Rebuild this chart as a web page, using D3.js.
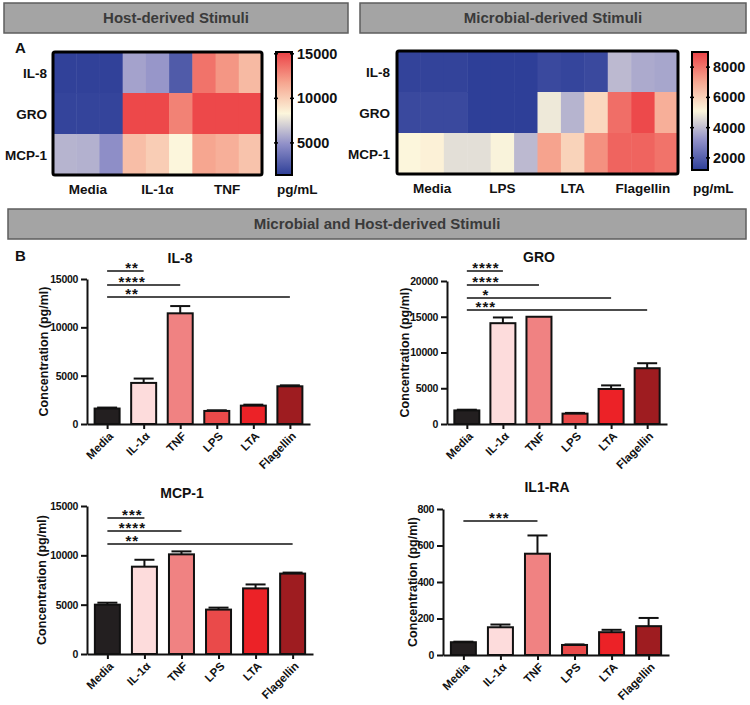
<!DOCTYPE html>
<html>
<head>
<meta charset="utf-8">
<script src="https://cdn.jsdelivr.net/npm/d3@7"></script>
<style>
body { margin: 0; background: #fff; }
text { font-family: "Liberation Sans", Arial, sans-serif; font-weight: bold; fill: #111; }
</style>
</head>
<body>
<svg id="fig" width="750" height="705"></svg>
<script>
// ---- data ----
const cytokines = ['IL-8', 'GRO', 'MCP-1'];
const hostStimuli = ['Media', 'IL-1α', 'TNF'];
const microbeStimuli = ['Media', 'LPS', 'LTA', 'Flagellin'];

// 3 replicates per stimulus, pg/mL
const hostHeat = [
    [1500, 1500, 1500, 5500, 5100, 2600, 13500, 12300, 10900],
    [1600, 1600, 1600, 15000, 15000, 13000, 15000, 15000, 15000],
    [6100, 6000, 4800, 10700, 10050, 8300, 11750, 11350, 10500]
];
const microbeHeat = [
    [1300, 1300, 1300, 1200, 1200, 1200, 1450, 1350, 1450, 3950, 3660, 3580],
    [1450, 1450, 1450, 1200, 1200, 1200, 4850, 3850, 5840, 8140, 8870, 6830],
    [5100, 5230, 4660, 4660, 5050, 3950, 7100, 5960, 7460, 8340, 8340, 8050]
];
const hostScaleTicks = [5000, 10000, 15000];
const microbeScaleTicks = [2000, 4000, 6000, 8000];

const stimuli = ['Media', 'IL-1α', 'TNF', 'LPS', 'LTA', 'Flagellin'];
const il8Mean = [1600, 4250, 11450, 1350, 1900, 3900];
const il8Err = [100, 450, 750, 70, 100, 100];
const groMean = [1900, 14100, 15000, 1450, 4900, 7800];
const groErr = [100, 800, 0, 100, 500, 700];
const mcpMean = [5000, 8850, 10100, 4500, 6650, 8150];
const mcpErr = [200, 700, 300, 200, 400, 100];
const raMean = [70, 152, 555, 55, 125, 158];
const raErr = [3, 15, 100, 3, 13, 45];

// significance brackets: Media vs target
const il8Sig = [['IL-1α', 15830, '**'], ['TNF', 14380, '****'], ['Flagellin', 13140, '**']];
const groSig = [['IL-1α', 21400, '****'], ['TNF', 19440, '****'], ['LTA', 17620, '*'], ['Flagellin', 15940, '***']];
const mcpSig = [['IL-1α', 13780, '***'], ['TNF', 12460, '****'], ['Flagellin', 11150, '**']];
const raSig = [['TNF', 734, '***']];

// ---- styles ----
const heatColors = ['#2e3f98', '#8f8fc8', '#fcf6dc', '#f6a690', '#ec4246'];
const barColors = ['#231f20', '#fddcdc', '#f08282', '#ea4a4a', '#ec2227', '#9e1c20'];

const svg = d3.select('#fig');
const defs = svg.append('defs');

// header boxes
const headers = [
    {text: 'Host-derived Stimuli', x: 4, y: 3, w: 344, h: 30},
    {text: 'Microbial-derived Stimuli', x: 360, y: 3, w: 386, h: 30},
    {text: 'Microbial and Host-derived Stimuli', x: 8, y: 209, w: 738, h: 30}
];
headers.forEach(h => {
    svg.append('rect')
        .attr('x', h.x).attr('y', h.y).attr('width', h.w).attr('height', h.h)
        .attr('fill', '#a4a4a4').attr('stroke', '#5e5e5e').attr('stroke-width', 1.5);
    svg.append('text')
        .attr('x', h.x + h.w / 2).attr('y', h.y + h.h / 2 + 5)
        .attr('text-anchor', 'middle').style('font-size', '15px').style('fill', '#3a3a3a')
        .text(h.text);
});

svg.append('text').attr('x', 15).attr('y', 53).style('font-size', '15px').text('A');
svg.append('text').attr('x', 15).attr('y', 261).style('font-size', '15px').text('B');

// heatmap panel
const drawHeatmap = (o) => {
    const g = svg.append('g');
    const nCols = o.groups.length * 3;
    const x = d3.scaleBand().domain(d3.range(nCols)).range([o.x, o.x + o.w]);
    const y = d3.scaleBand().domain(cytokines).range([o.y, o.y + o.h]);
    const [lo, hi] = o.domain;
    const color = d3.scaleLinear()
        .domain(d3.range(5).map(i => lo + (hi - lo) * i / 4))
        .range(heatColors)
        .clamp(true);

    const cells = [];
    o.values.forEach((row, r) => row.forEach((v, c) => cells.push({r: cytokines[r], c, v})));

    g.selectAll('rect.cell')
        .data(cells)
        .join('rect')
        .attr('class', 'cell')
        .attr('x', d => x(d.c))
        .attr('y', d => y(d.r))
        .attr('width', x.bandwidth() + 0.5)
        .attr('height', y.bandwidth() + 0.5)
        .attr('fill', d => color(d.v));

    g.append('rect')
        .attr('x', o.x).attr('y', o.y).attr('width', o.w).attr('height', o.h)
        .attr('fill', 'none').attr('stroke', '#000').attr('stroke-width', 3).attr('rx', 2);

    g.selectAll('text.row')
        .data(cytokines)
        .join('text')
        .attr('x', o.labelX)
        .attr('y', d => y(d) + y.bandwidth() / 2 + 5)
        .attr('text-anchor', 'end')
        .style('font-size', '13.5px')
        .text(d => d);

    g.selectAll('text.col')
        .data(o.groups)
        .join('text')
        .attr('x', (d, i) => x(i * 3) + x.bandwidth() * 1.5)
        .attr('y', o.y + o.h + 19)
        .attr('text-anchor', 'middle')
        .style('font-size', '13.5px')
        .text(d => d);

    // colour bar
    const gradId = o.id + '_grad';
    const grad = defs.append('linearGradient').attr('id', gradId)
        .attr('x1', 0).attr('y1', 1).attr('x2', 0).attr('y2', 0);
    heatColors.forEach((c, i) => grad.append('stop').attr('offset', i / 4).attr('stop-color', c));

    const cb = o.bar;
    g.append('rect')
        .attr('x', cb.x).attr('y', cb.y).attr('width', cb.w).attr('height', cb.h)
        .attr('fill', `url(#${gradId})`).attr('stroke', '#000').attr('stroke-width', 2);

    const yc = d3.scaleLinear().domain([lo, hi]).range([cb.y + cb.h, cb.y]);
    o.ticks.forEach(t => {
        [cb.x, cb.x + cb.w].forEach(ex => {
            g.append('line')
                .attr('x1', ex - 2).attr('x2', ex + 2)
                .attr('y1', yc(t)).attr('y2', yc(t))
                .attr('stroke', '#000').attr('stroke-width', 1.5);
        });
        g.append('text')
            .attr('x', cb.x + cb.w + 5)
            .attr('y', yc(t) + 5)
            .style('font-size', '14.5px')
            .text(t);
    });

    g.append('text')
        .attr('x', cb.x + 1)
        .attr('y', o.y + o.h + 19)
        .style('font-size', '13.5px')
        .text('pg/mL');
};

drawHeatmap({
    id: 'host', groups: hostStimuli, values: hostHeat,
    x: 53, y: 52, w: 209, h: 123, labelX: 47,
    domain: [1400, 15200], ticks: hostScaleTicks,
    bar: {x: 276, y: 52, w: 16, h: 123}
});
drawHeatmap({
    id: 'microbe', groups: microbeStimuli, values: microbeHeat,
    x: 397, y: 51, w: 281, h: 123, labelX: 390,
    domain: [1200, 9000], ticks: microbeScaleTicks,
    bar: {x: 692, y: 52, w: 16, h: 118}
});

// bar chart panel
const drawBars = (o) => {
    const g = svg.append('g');
    const x = d3.scalePoint().domain(stimuli).range([o.x0, o.x1]).padding(0.55);
    const y = d3.scaleLinear().domain([0, o.max]).range([o.base, o.top]);
    const bw = 25;

    g.selectAll('rect.bar')
        .data(stimuli)
        .join('rect')
        .attr('class', 'bar')
        .attr('x', d => x(d) - bw / 2)
        .attr('y', (d, i) => y(o.mean[i]))
        .attr('width', bw)
        .attr('height', (d, i) => y(0) - y(o.mean[i]))
        .attr('fill', (d, i) => barColors[i])
        .attr('stroke', '#111')
        .attr('stroke-width', 2);

    // error bars (upper only)
    stimuli.forEach((d, i) => {
        if (!o.err[i]) return;
        const yt = y(o.mean[i] + o.err[i]);
        g.append('line')
            .attr('x1', x(d)).attr('x2', x(d))
            .attr('y1', y(o.mean[i])).attr('y2', yt)
            .attr('stroke', '#111').attr('stroke-width', 2);
        g.append('line')
            .attr('x1', x(d) - 10).attr('x2', x(d) + 10)
            .attr('y1', yt).attr('y2', yt)
            .attr('stroke', '#111').attr('stroke-width', 2);
    });

    const yAxis = g.append('g')
        .attr('transform', `translate(${o.x0},0)`)
        .call(d3.axisLeft(y).tickValues(o.ticks).tickFormat(d3.format('d'))
            .tickSize(6).tickSizeOuter(0).tickPadding(3));
    const xAxis = g.append('g')
        .attr('transform', `translate(0,${o.base})`)
        .call(d3.axisBottom(x).tickSize(5).tickSizeOuter(0).tickFormat(''));
    [yAxis, xAxis].forEach(a => {
        a.select('.domain').attr('stroke', '#111').attr('stroke-width', 2);
        a.selectAll('.tick line').attr('stroke', '#111').attr('stroke-width', 2);
    });
    yAxis.selectAll('.tick text').style('font-size', '10.5px').style('letter-spacing', '-0.3px');

    g.selectAll('text.xlab')
        .data(stimuli)
        .join('text')
        .attr('transform', d => `translate(${x(d) + 4},${o.base + 10}) rotate(-45)`)
        .attr('text-anchor', 'end')
        .attr('dy', '0.35em')
        .style('font-size', '11.5px')
        .text(d => d);

    g.append('text')
        .attr('transform', `translate(${o.labelX},${(o.base + o.top) / 2}) rotate(-90)`)
        .attr('text-anchor', 'middle')
        .attr('dy', '0.35em')
        .style('font-size', '12.5px')
        .text('Concentration (pg/ml)');

    g.append('text')
        .attr('x', o.titleX).attr('y', o.titleY + 5)
        .attr('text-anchor', 'middle')
        .style('font-size', '14px')
        .text(o.title);

    // significance lines
    const xm = x('Media');
    o.sig.forEach(([to, v, stars]) => {
        g.append('line')
            .attr('x1', xm).attr('x2', x(to))
            .attr('y1', y(v)).attr('y2', y(v))
            .attr('stroke', '#111').attr('stroke-width', 1.5);
        g.append('text')
            .attr('x', xm + o.starDx).attr('y', y(v) + 2)
            .attr('text-anchor', 'middle')
            .style('font-size', '15px')
            .style('letter-spacing', '1px')
            .text(stars);
    });
};

drawBars({title: 'IL-8', mean: il8Mean, err: il8Err, sig: il8Sig,
    x0: 87, x1: 310, base: 424, top: 279, max: 15000, ticks: [0, 5000, 10000, 15000],
    titleX: 180, titleY: 258, labelX: 44, starDx: 25});
drawBars({title: 'GRO', mean: groMean, err: groErr, sig: groSig,
    x0: 447, x1: 667, base: 424, top: 281, max: 20000, ticks: [0, 5000, 10000, 15000, 20000],
    titleX: 539, titleY: 257, labelX: 405, starDx: 19});
drawBars({title: 'MCP-1', mean: mcpMean, err: mcpErr, sig: mcpSig,
    x0: 87, x1: 313, base: 654, top: 506, max: 15000, ticks: [0, 5000, 10000, 15000],
    titleX: 182, titleY: 493, labelX: 42, starDx: 25});
drawBars({title: 'IL1-RA', mean: raMean, err: raErr, sig: raSig,
    x0: 443, x1: 669, base: 655, top: 509, max: 800, ticks: [0, 200, 400, 600, 800],
    titleX: 547, titleY: 487, labelX: 413, starDx: 36});
</script>
</body>
</html>
